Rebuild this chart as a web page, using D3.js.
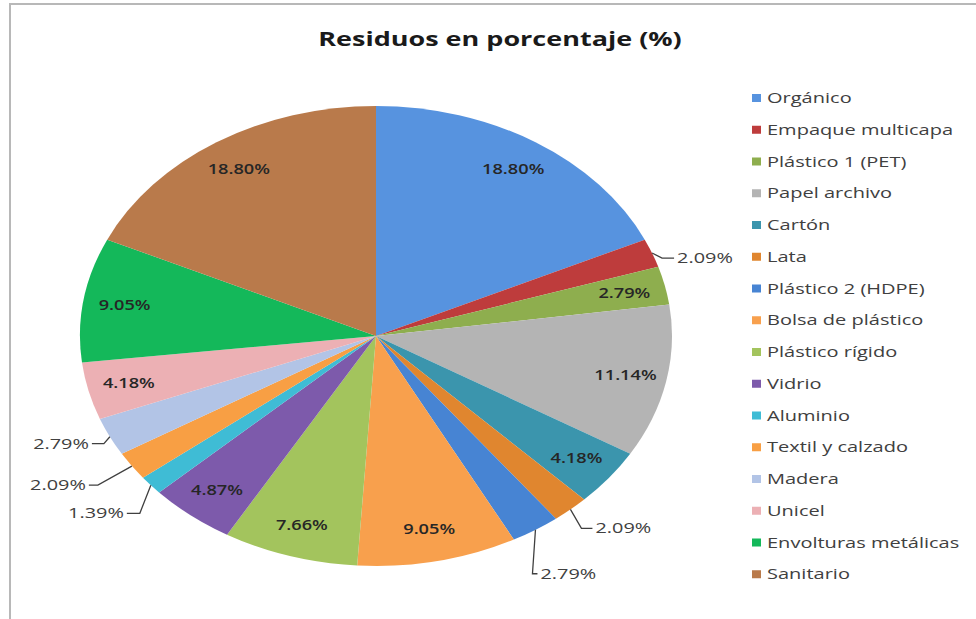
<!DOCTYPE html>
<html><head><meta charset="utf-8">
<script src="https://cdn.jsdelivr.net/npm/d3@7"></script>
<style>body{margin:0;background:#fff}</style>
</head><body><svg id="c" width="976" height="619"></svg>
<script>
const title = "Residuos en porcentaje (%)";
const categories = ["Orgánico","Empaque multicapa","Plástico 1 (PET)","Papel archivo","Cartón","Lata","Plástico 2 (HDPE)","Bolsa de plástico","Plástico rígido","Vidrio","Aluminio","Textil y calzado","Madera","Unicel","Envolturas metálicas","Sanitario"];
const values = [18.80,2.09,2.79,11.14,4.18,2.09,2.79,9.05,7.66,4.87,1.39,2.09,2.79,4.18,9.05,18.80];
const colors = ["#5793df","#be3c3c","#8eae4e","#b4b4b4","#3b95ad","#e0862f","#4784d3","#f8a04d","#a3c45d","#7d5aab","#3fbcd5","#f89f44","#b2c4e6","#ecb0b4","#14b85a","#b97a4b"];
const outsideCats = ["Empaque multicapa","Lata","Plástico 2 (HDPE)","Aluminio","Textil y calzado","Madera"];
// callout geometry (layout only): leader elbow offset from slice edge and horizontal run
const calloutLayout = {
  "Empaque multicapa": {dx:10, dy:5, h:12},
  "Lata": {dx:11, dy:19, h:11},
  "Plástico 2 (HDPE)": {dx:-3, dy:44, h:5},
  "Aluminio": {dx:-11, dy:28, h:-13},
  "Textil y calzado": {dx:-34, dy:19, h:-9},
  "Madera": {dx:-6, dy:7, h:-12}
};

const cx = 376, cy = 336, rx = 296, ry = 230;
const svg = d3.select("#c");

svg.append("rect").attr("x",10).attr("y",4).attr("width",1100).attr("height",800)
  .attr("fill","none").attr("stroke","#b8b8b8").attr("stroke-width",2);

function txt(sel, x, y, s, opts) {
  return sel.append("text")
    .attr("transform", `translate(${x},${y}) scale(${opts.sx || 1.3},1)`)
    .attr("text-anchor", opts.anchor || "start")
    .attr("font-family", "'Open Sans', sans-serif")
    .attr("font-size", opts.size)
    .attr("font-weight", opts.weight || 400)
    .attr("fill", opts.fill || "#404040")
    .text(s);
}

txt(svg, 500, 46, title, {anchor:"middle", size:20, sx:1.35, weight:700, fill:"#1a1a1a"});

const pie = d3.pie().sort(null).value(d => d.v);
const data = categories.map((c,i) => ({c, v: values[i], col: colors[i]}));
const arcs = pie(data);
const arc = d3.arc().innerRadius(0).outerRadius(ry);

const g = svg.append("g").attr("transform", `translate(${cx},${cy}) scale(${rx/ry},1)`);
g.selectAll("path").data(arcs).join("path")
  .attr("d", arc).attr("fill", d => d.data.col);

const fmt = v => d3.format(".2f")(v) + "%";
function pt(a, f) { return [cx + rx*f*Math.sin(a), cy - ry*f*Math.cos(a)]; }

arcs.forEach(d => {
  const a = (d.startAngle + d.endAngle)/2;
  if (outsideCats.includes(d.data.c)) {
    const L = calloutLayout[d.data.c];
    const p0 = pt(a, 1.0);
    const p1 = [p0[0]+L.dx, p0[1]+L.dy];
    const p2 = [p1[0]+L.h, p1[1]];
    svg.append("path").attr("d", d3.line()([p0,p1,p2]))
      .attr("fill","none").attr("stroke","#404040").attr("stroke-width",1.3);
    const right = L.h >= 0;
    txt(svg, p2[0] + (right?3:-3), p2[1] + 5, fmt(d.data.v), {anchor: right?"start":"end", size:14, sx:1.42, fill:"#404040"});
  } else {
    const p = pt(a, 0.86);
    txt(svg, p[0], p[1] + 5, fmt(d.data.v), {anchor:"middle", size:14, sx:1.3, weight:600, fill:"#262626"});
  }
});

// legend
const lg = svg.append("g");
categories.forEach((c,i) => {
  const y = 98 + i*31.75;
  lg.append("rect").attr("x",752).attr("y",y-4).attr("width",9).attr("height",8).attr("fill",colors[i]);
  txt(lg, 767, y+5, c, {size:14, sx:1.43, fill:"#404040"});
});
</script></body></html>
